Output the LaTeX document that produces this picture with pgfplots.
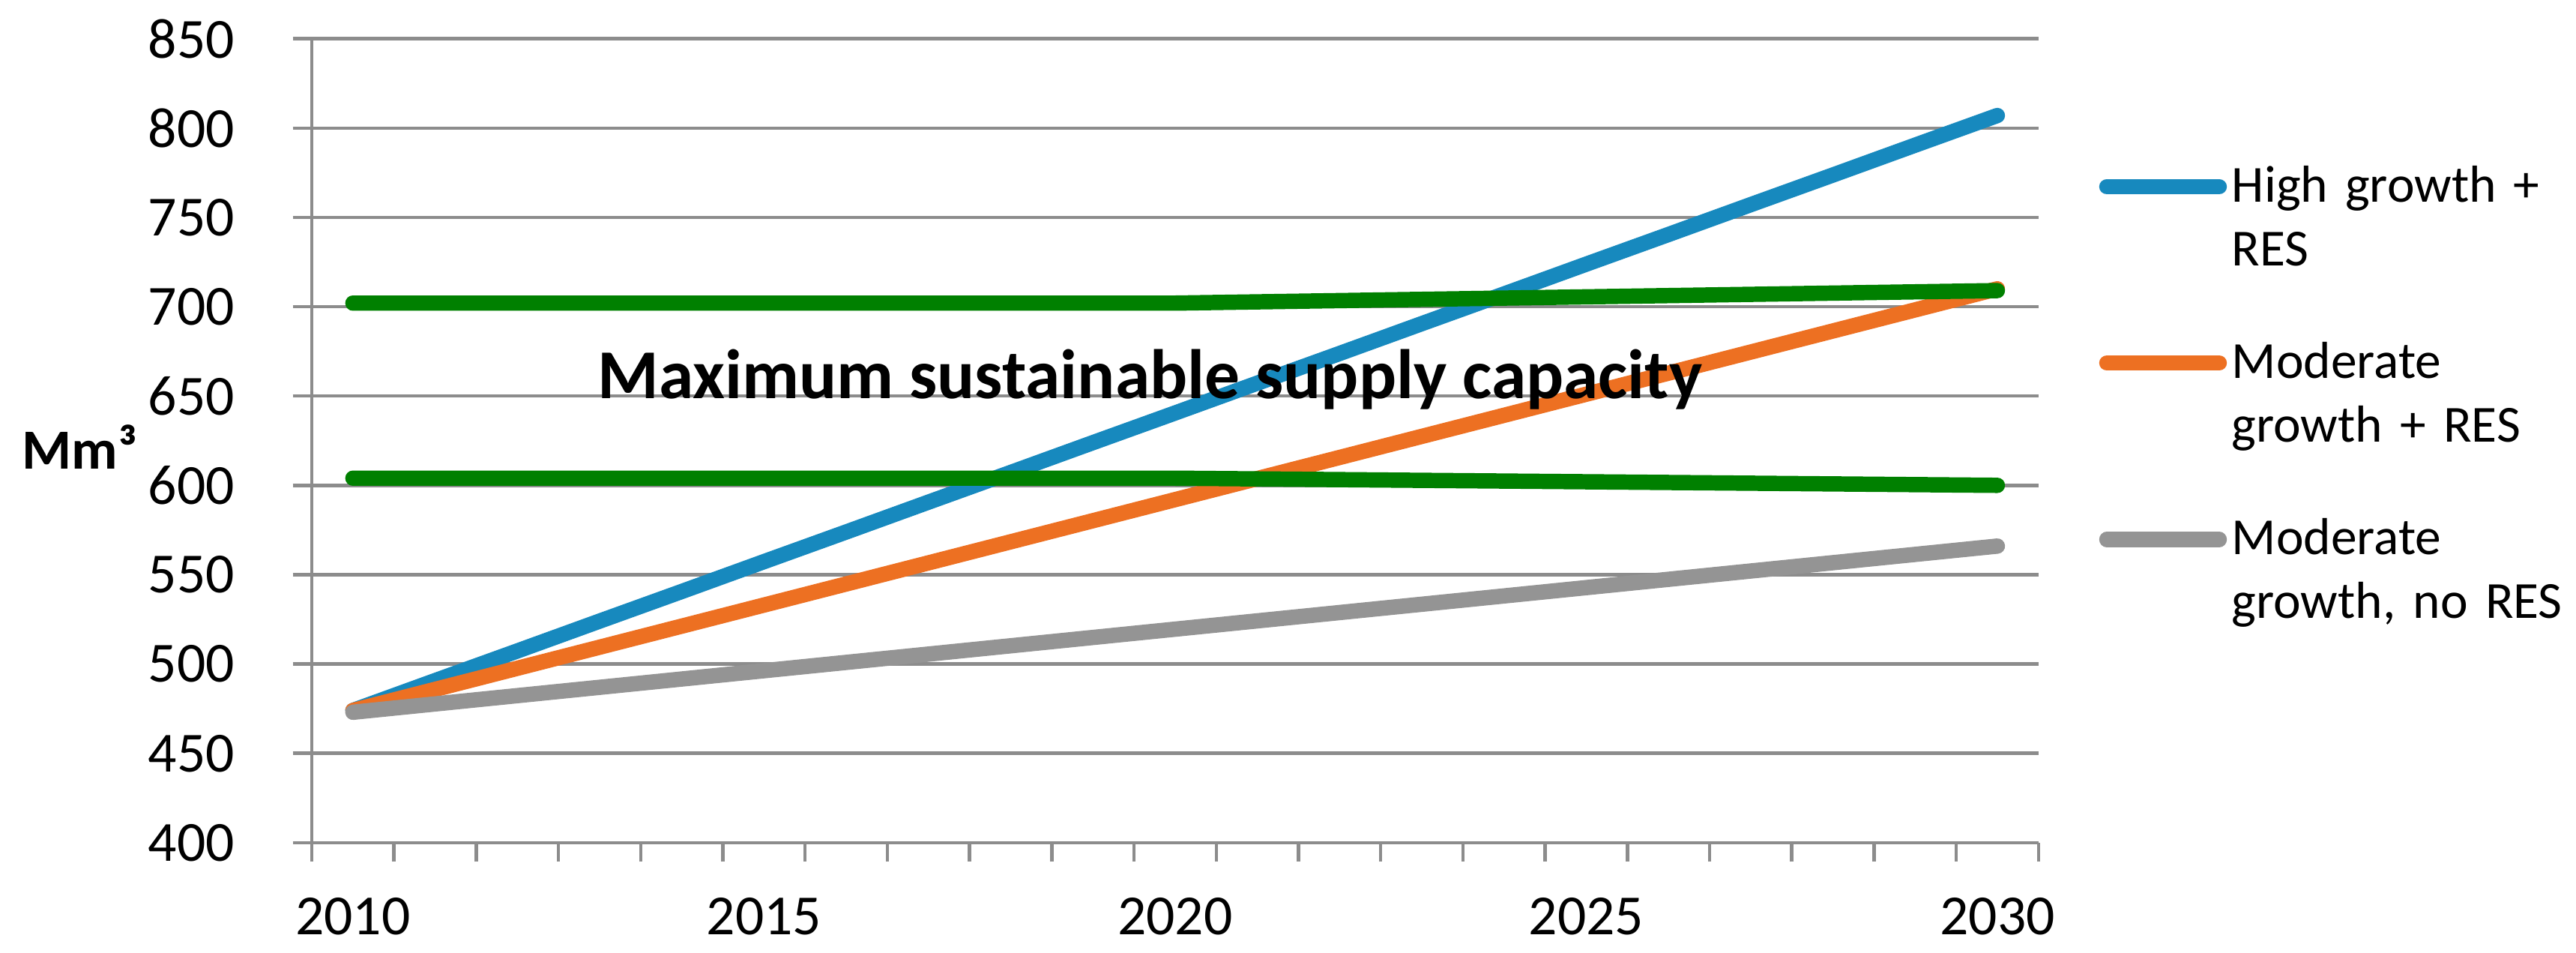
\documentclass[border=0pt]{standalone}
\usepackage{pgfplots}
\pgfplotsset{compat=1.18}
\usepackage{fontspec}
\setmainfont{Carlito}
\definecolor{cblue}{RGB}{23,137,190}
\definecolor{corange}{RGB}{237,112,34}
\definecolor{cgray}{RGB}{148,148,148}
\definecolor{cgreen}{RGB}{0,128,0}
\definecolor{gridc}{RGB}{140,140,140}
\begin{document}
\begin{tikzpicture}
\begin{axis}[
  scale only axis,
  width=517.8pt, height=241pt,
  clip mode=individual,
  xmin=2009.5, xmax=2030.5, ymin=400, ymax=850,
  axis lines*=left,
  axis line style={draw=gridc, line width=1pt},
  ytick={400,450,500,550,600,650,700,750,800,850},
  ymajorgrids,
  grid style={draw=gridc, line width=1pt},
  tick align=outside,
  major tick length=5.7pt,
  tick style={draw=gridc, line width=1pt},
  xtick={2009.5,2010.5,2011.5,2012.5,2013.5,2014.5,2015.5,2016.5,2017.5,2018.5,2019.5,2020.5,2021.5,2022.5,2023.5,2024.5,2025.5,2026.5,2027.5,2028.5,2029.5,2030.5},
  xticklabels={2010,,,,,2015,,,,,2020,,,,,2025,,,,,2030,},
  /pgf/number format/assume math mode=true,
  ticklabel style={font=\fontsize{17}{20.4}\selectfont},
  xticklabel style={inner sep=0pt, xshift=12.33pt, yshift=-10.6pt},
  yticklabel style={inner sep=0pt, xshift=-17.3pt},
  legend image code/.code={\path[draw=none, fill=none] (0pt,0pt) rectangle (33.7pt,4.5pt); \draw[#1, line cap=round] (0pt,4.5pt) -- (33.7pt,4.5pt);},
  legend style={draw=none, fill=none, inner sep=0pt, outer sep=0pt,
    at={(rel axis cs:1,1)}, anchor=north west, xshift=18.2pt, yshift=-35.5pt,
    font=\fontsize{15.6}{19.1}\selectfont,
    cells={anchor=base west},
    nodes={align=left, text width=110pt, inner sep=0pt},
    row sep=38pt, column sep=1.5pt},
]
\addplot[cblue, line width=4.6pt, line cap=round, line join=round] coordinates {
(2010,474.0)(2011,490.7)(2012,507.3)(2013,524.0)(2014,540.6)(2015,557.3)(2016,573.9)(2017,590.6)(2018,607.2)(2019,623.9)(2020,640.5)(2021,657.2)(2022,673.8)(2023,690.5)(2024,707.1)(2025,723.8)(2026,740.4)(2027,757.1)(2028,773.7)(2029,790.4)(2030,807.0)};
\addlegendentry{\strut High growth +\\RES\strut}
\addplot[corange, line width=4.6pt, line cap=round, line join=round] coordinates {
(2010,474.0)(2011,485.8)(2012,497.6)(2013,509.4)(2014,521.2)(2015,533.0)(2016,544.8)(2017,556.6)(2018,568.4)(2019,580.2)(2020,592.0)(2021,603.8)(2022,615.6)(2023,627.4)(2024,639.2)(2025,651.0)(2026,662.8)(2027,674.6)(2028,686.4)(2029,698.2)(2030,710.0)};
\addlegendentry{\strut Moderate\\growth + RES\strut}
\addplot[cgray, line width=4.6pt, line cap=round, line join=round] coordinates {
(2010,473.0)(2011,477.65)(2012,482.3)(2013,486.95)(2014,491.6)(2015,496.25)(2016,500.9)(2017,505.55)(2018,510.2)(2019,514.85)(2020,519.5)(2021,524.15)(2022,528.8)(2023,533.45)(2024,538.1)(2025,542.75)(2026,547.4)(2027,552.05)(2028,556.7)(2029,561.35)(2030,566.0)};
\addlegendentry{\strut Moderate\\growth, no RES\strut}
\addplot[cgreen, line width=4.6pt, line cap=round, line join=round, forget plot] coordinates {
(2010,702)(2011,702)(2012,702)(2013,702)(2014,702)(2015,702)(2016,702)(2017,702)(2018,702)(2019,702)(2020,702)(2021,702.7)(2022,703.4)(2023,704.1)(2024,704.8)(2025,705.5)(2026,706.2)(2027,706.9)(2028,707.6)(2029,708.3)(2030,709.0)};
\addplot[cgreen, line width=4.6pt, line cap=round, line join=round, forget plot] coordinates {
(2010,604)(2011,604)(2012,604)(2013,604)(2014,604)(2015,604)(2016,604)(2017,604)(2018,604)(2019,604)(2020,604)(2021,603.6)(2022,603.2)(2023,602.8)(2024,602.4)(2025,602.0)(2026,601.6)(2027,601.2)(2028,600.8)(2029,600.4)(2030,600.0)};
\node[anchor=base west, inner sep=0pt, font=\fontsize{21}{25}\selectfont\bfseries] at (axis cs:2012.97,648.5) {Maximum sustainable supply capacity};
\node[anchor=base west, inner sep=0pt, font=\fontsize{17}{20}\selectfont\bfseries] at (rel axis cs:-0.168,0.4651) {Mm³};
\coordinate (ll) at (rel axis cs:0,0);
\end{axis}
\pgfresetboundingbox
\path[use as bounding box] (ll) ++(-93.5pt,-33pt) rectangle ++(772.5pt,285.6pt);
\end{tikzpicture}
\end{document}
